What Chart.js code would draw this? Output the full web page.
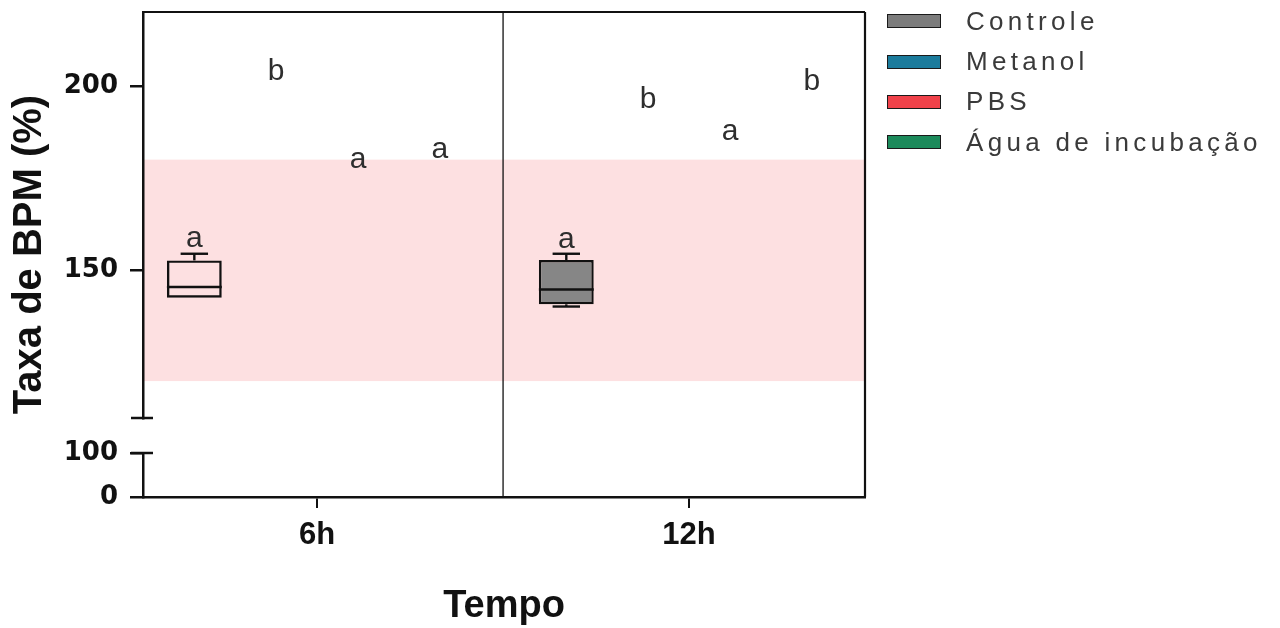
<!DOCTYPE html>
<html lang="pt">

<head>
  <meta charset="UTF-8">
  <title>Taxa de BPM</title>
  <style>
    body {
      margin: 0;
      background: #fff;
    }

    #wrap {
      position: relative;
      width: 1280px;
      height: 628px;
    }

    #legenda {
      position: absolute;
      left: 887px;
      top: 1px;
      font-family: "Liberation Sans", Arial, sans-serif;
      font-size: 26px;
      letter-spacing: 4.3px;
      color: #3a3a3a;
    }

    .item {
      display: flex;
      align-items: center;
      height: 40.4px;
    }

    .caixa {
      width: 52px;
      height: 12px;
      border: 1.5px solid #1a1a1a;
      margin-right: 25px;
    }
  </style>
  <script src="https://cdn.jsdelivr.net/npm/chart.js"></script>
</head>

<body>
  <div id="wrap">
    <canvas id="grafico" width="1280" height="628"></canvas>
    <div id="legenda"></div>
  </div>

  <script>
    // Dados
    const categorias = ['6h', '12h'];
    const grupos = ['Controle', 'Metanol', 'PBS', 'Água de incubação'];
    const coresGrupos = ['#7c7c7c', '#1b7b9c', '#f0424a', '#1c8a5b'];

    // só o Controle tem caixa desenhada
    const controleMin = [142.6, 140.2];
    const controleQ1 = [142.6, 140.8];
    const controleMediana = [145.5, 144.8];
    const controleQ3 = [152.7, 152.8];
    const controleMax = [154.5, 154.5];
    const preenchimentoControle = ['rgba(255,255,255,0)', '#868686'];

    // letras de significância por grupo (6h, 12h) e altura da linha de base
    const letras = [['a', 'a'], ['b', 'b'], ['a', 'a'], ['a', 'b']];
    const alturaLetras = [[156.3, 156.0], [201.6, 194.0], [177.7, 185.3], [180.4, 198.9]];

    // faixa normal de BPM
    const faixaMin = 120;
    const faixaMax = 180;

    const ticksSuperior = [150, 200];
    const ticksInferior = [0, 100];

    // legenda
    var legenda = document.getElementById('legenda');
    for (var i = 0; i < grupos.length; i++) {
      legenda.innerHTML += `<div class="item"><div class="caixa" style="background:${coresGrupos[i]}"></div>${grupos[i]}</div>`;
    }

    var datasets = grupos.map(function (g, i) {
      return {
        label: g,
        data: categorias.map(function (c, j) {
          return { x: j, y: i == 0 ? [controleQ1[j], controleQ3[j]] : null };
        }),
        backgroundColor: i == 0 ? preenchimentoControle : coresGrupos[i],
        borderColor: '#111',
        borderWidth: 2.4,
        borderSkipped: false,
        barPercentage: 0.67,
        categoryPercentage: 0.88,
        yAxisID: 'y'
      };
    });

    function linha(ctx, x1, y1, x2, y2) {
      ctx.beginPath();
      ctx.moveTo(x1, y1);
      ctx.lineTo(x2, y2);
      ctx.stroke();
    }

    var faixaRosa = {
      id: 'faixaRosa',
      beforeDraw(chart) {
        var ctx = chart.ctx, area = chart.chartArea, y = chart.scales.y;
        var topo = y.getPixelForValue(faixaMax);
        var base = y.getPixelForValue(faixaMin);
        ctx.save();
        ctx.fillStyle = '#fde0e1';
        ctx.fillRect(area.left, topo, area.right - area.left, base - topo);
        ctx.restore();
      }
    };

    var extras = {
      id: 'extras',
      afterDatasetsDraw(chart) {
        var ctx = chart.ctx, area = chart.chartArea;
        var x = chart.scales.x, y = chart.scales.y, y0 = chart.scales.y0;
        ctx.save();
        ctx.strokeStyle = '#111';
        ctx.lineWidth = 2.4;

        // mediana e bigodes do Controle
        chart.getDatasetMeta(0).data.forEach(function (barra, j) {
          var meio = barra.width / 2, cap = barra.width / 4;
          var ym = y.getPixelForValue(controleMediana[j]);
          linha(ctx, barra.x - meio, ym, barra.x + meio, ym);
          var yq3 = y.getPixelForValue(controleQ3[j]), ymax = y.getPixelForValue(controleMax[j]);
          linha(ctx, barra.x, yq3, barra.x, ymax);
          linha(ctx, barra.x - cap, ymax, barra.x + cap, ymax);
          var yq1 = y.getPixelForValue(controleQ1[j]), ymin = y.getPixelForValue(controleMin[j]);
          if (ymin - yq1 > 0.5) {
            linha(ctx, barra.x, yq1, barra.x, ymin);
            linha(ctx, barra.x - cap, ymin, barra.x + cap, ymin);
          }
        });

        // moldura e divisória
        ctx.lineWidth = 2.2;
        linha(ctx, area.left, area.top, area.right, area.top);
        linha(ctx, area.right, area.top, area.right, area.bottom);
        ctx.lineWidth = 1.3;
        var xd = x.getPixelForValue(0.5);
        linha(ctx, xd, area.top, xd, area.bottom);

        // marcas da quebra do eixo
        ctx.lineWidth = 2.5;
        linha(ctx, y.right - 12, y.bottom, y.right + 10, y.bottom);
        linha(ctx, y0.right - 12, y0.top, y0.right + 10, y0.top);

        // letras
        ctx.font = '30px "Liberation Sans", Arial, sans-serif';
        ctx.fillStyle = '#2e2e2e';
        ctx.textAlign = 'center';
        ctx.textBaseline = 'alphabetic';
        for (var i = 0; i < grupos.length; i++) {
          var meta = chart.getDatasetMeta(i);
          for (var j = 0; j < categorias.length; j++) {
            var el = meta.data[j];
            var lx = el && isFinite(el.x) ? el.x : x.getPixelForValue(j);
            ctx.fillText(letras[i][j], lx, y.getPixelForValue(alturaLetras[i][j]));
          }
        }
        ctx.restore();
      }
    };

    var fonteEixo = { family: '"DejaVu Sans"', size: 26, weight: 'bold' };

    var grafico = new Chart(document.getElementById('grafico'), {
      type: 'bar',
      data: { datasets: datasets },
      plugins: [faixaRosa, extras],
      options: {
        responsive: false,
        animation: false,
        devicePixelRatio: 1,
        layout: { padding: { top: 12, right: 415, left: 0, bottom: 0 } },
        plugins: {
          legend: { display: false },
          tooltip: { enabled: false }
        },
        scales: {
          x: {
            type: 'linear',
            position: 'bottom',
            offset: false,
            min: -0.468,
            max: 1.473,
            afterBuildTicks: function (s) { s.ticks = categorias.map(function (c, j) { return { value: j }; }); },
            afterFit: function (s) { s.height = 131; },
            ticks: {
              callback: function (v) { return categorias[v]; },
              font: { family: '"Liberation Sans"', size: 31, weight: 'bold' },
              color: '#111',
              padding: 9,
              autoSkip: false,
              maxRotation: 0
            },
            grid: { offset: false, drawOnChartArea: false, color: '#111', lineWidth: 2, tickLength: 11 },
            border: { color: '#111', width: 2.5 },
            title: {
              display: true,
              text: 'Tempo',
              color: '#111',
              font: { family: '"Liberation Sans"', size: 38, weight: 'bold', lineHeight: 1.15 },
              padding: { top: 0, bottom: 0 }
            }
          },
          yt: {
            type: 'linear',
            position: 'left',
            weight: 10,
            ticks: { display: false },
            grid: { display: false },
            border: { display: false },
            afterFit: function (s) { s.width = 57; },
            title: {
              display: true,
              text: 'Taxa de BPM (%)',
              color: '#111',
              font: { family: '"Liberation Sans"', size: 40, weight: 'bold', lineHeight: 1.2 },
              padding: { top: 6, bottom: 0 }
            }
          },
          y: {
            type: 'linear',
            position: 'left',
            stack: 'esq',
            stackWeight: 406,
            weight: 3,
            min: 110,
            max: 220,
            afterBuildTicks: function (s) { s.ticks = ticksSuperior.map(function (v) { return { value: v }; }); },
            afterFit: function (s) { s.width = 86; s.paddingTop = 0; s.paddingBottom = 0; },
            ticks: { font: fonteEixo, color: '#111', padding: 12, autoSkip: false },
            grid: { drawOnChartArea: false, color: '#111', lineWidth: 2.5, tickLength: 13 },
            border: { color: '#111', width: 2.5 }
          },
          yg: {
            type: 'linear',
            position: 'left',
            stack: 'esq',
            stackWeight: 35,
            weight: 2,
            display: false,
            afterFit: function (s) { s.width = 86; s.paddingTop = 0; s.paddingBottom = 0; }
          },
          y0: {
            type: 'linear',
            position: 'left',
            stack: 'esq',
            stackWeight: 44,
            weight: 1,
            min: 0,
            max: 100,
            afterBuildTicks: function (s) { s.ticks = ticksInferior.map(function (v) { return { value: v }; }); },
            afterFit: function (s) { s.width = 86; s.paddingTop = 0; s.paddingBottom = 0; },
            ticks: { font: fonteEixo, color: '#111', padding: 12, autoSkip: false },
            grid: { drawOnChartArea: false, color: '#111', lineWidth: 2.5, tickLength: 13 },
            border: { color: '#111', width: 2.5 }
          }
        }
      }
    });
  </script>
</body>

</html>
